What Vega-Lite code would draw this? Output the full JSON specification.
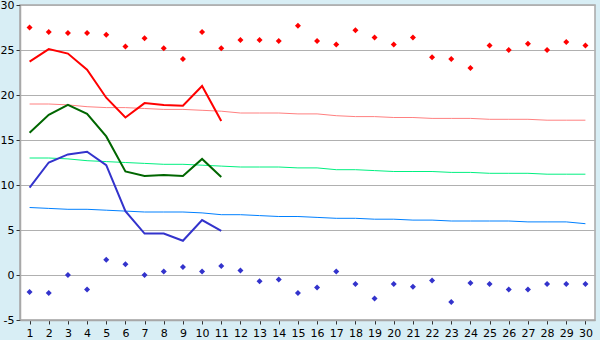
{
  "$schema": "https://vega.github.io/schema/vega-lite/v6.json",
  "autosize": "none",
  "width": 575,
  "height": 315,
  "padding": {"left": 20, "top": 5, "right": 5, "bottom": 20},
  "background": "#d8eef5",
  "config": {
    "view": {"fill": "white", "stroke": "#a8a8a8", "strokeWidth": 1.5},
    "axis": {"labelFont": "DejaVu Sans", "labelFontSize": 11, "labelColor": "#000000", "domainColor": "#a8a8a8", "domainWidth": 1.5, "tickColor": "#333333", "tickSize": 4, "title": null}
  },
  "data": {"values": [
    {"day": 1, "hi": 23.7, "mean": 15.8, "lo": 9.7, "nhi": 19.0, "nmean": 13.0, "nlo": 7.5, "rhi": 27.5, "rlo": -1.9},
    {"day": 2, "hi": 25.1, "mean": 17.8, "lo": 12.5, "nhi": 19.0, "nmean": 13.0, "nlo": 7.4, "rhi": 27.0, "rlo": -2.0},
    {"day": 3, "hi": 24.6, "mean": 18.9, "lo": 13.4, "nhi": 18.9, "nmean": 12.9, "nlo": 7.3, "rhi": 26.9, "rlo": 0.0},
    {"day": 4, "hi": 22.8, "mean": 17.9, "lo": 13.7, "nhi": 18.7, "nmean": 12.7, "nlo": 7.3, "rhi": 26.9, "rlo": -1.6},
    {"day": 5, "hi": 19.7, "mean": 15.4, "lo": 12.2, "nhi": 18.6, "nmean": 12.6, "nlo": 7.2, "rhi": 26.7, "rlo": 1.7},
    {"day": 6, "hi": 17.5, "mean": 11.5, "lo": 7.1, "nhi": 18.6, "nmean": 12.5, "nlo": 7.1, "rhi": 25.4, "rlo": 1.2},
    {"day": 7, "hi": 19.1, "mean": 11.0, "lo": 4.6, "nhi": 18.5, "nmean": 12.4, "nlo": 7.0, "rhi": 26.3, "rlo": 0.0},
    {"day": 8, "hi": 18.9, "mean": 11.1, "lo": 4.6, "nhi": 18.4, "nmean": 12.3, "nlo": 7.0, "rhi": 25.2, "rlo": 0.4},
    {"day": 9, "hi": 18.8, "mean": 11.0, "lo": 3.8, "nhi": 18.4, "nmean": 12.3, "nlo": 7.0, "rhi": 24.0, "rlo": 0.9},
    {"day": 10, "hi": 21.0, "mean": 12.9, "lo": 6.1, "nhi": 18.3, "nmean": 12.2, "nlo": 6.9, "rhi": 27.0, "rlo": 0.4},
    {"day": 11, "hi": 17.1, "mean": 10.9, "lo": 4.9, "nhi": 18.2, "nmean": 12.1, "nlo": 6.7, "rhi": 25.2, "rlo": 1.0},
    {"day": 12, "hi": null, "mean": null, "lo": null, "nhi": 18.0, "nmean": 12.0, "nlo": 6.7, "rhi": 26.1, "rlo": 0.5},
    {"day": 13, "hi": null, "mean": null, "lo": null, "nhi": 18.0, "nmean": 12.0, "nlo": 6.6, "rhi": 26.1, "rlo": -0.7},
    {"day": 14, "hi": null, "mean": null, "lo": null, "nhi": 18.0, "nmean": 12.0, "nlo": 6.5, "rhi": 26.0, "rlo": -0.5},
    {"day": 15, "hi": null, "mean": null, "lo": null, "nhi": 17.9, "nmean": 11.9, "nlo": 6.5, "rhi": 27.7, "rlo": -2.0},
    {"day": 16, "hi": null, "mean": null, "lo": null, "nhi": 17.9, "nmean": 11.9, "nlo": 6.4, "rhi": 26.0, "rlo": -1.4},
    {"day": 17, "hi": null, "mean": null, "lo": null, "nhi": 17.7, "nmean": 11.7, "nlo": 6.3, "rhi": 25.6, "rlo": 0.4},
    {"day": 18, "hi": null, "mean": null, "lo": null, "nhi": 17.6, "nmean": 11.7, "nlo": 6.3, "rhi": 27.2, "rlo": -1.0},
    {"day": 19, "hi": null, "mean": null, "lo": null, "nhi": 17.6, "nmean": 11.6, "nlo": 6.2, "rhi": 26.4, "rlo": -2.6},
    {"day": 20, "hi": null, "mean": null, "lo": null, "nhi": 17.5, "nmean": 11.5, "nlo": 6.2, "rhi": 25.6, "rlo": -1.0},
    {"day": 21, "hi": null, "mean": null, "lo": null, "nhi": 17.5, "nmean": 11.5, "nlo": 6.1, "rhi": 26.4, "rlo": -1.3},
    {"day": 22, "hi": null, "mean": null, "lo": null, "nhi": 17.4, "nmean": 11.5, "nlo": 6.1, "rhi": 24.2, "rlo": -0.6},
    {"day": 23, "hi": null, "mean": null, "lo": null, "nhi": 17.4, "nmean": 11.4, "nlo": 6.0, "rhi": 24.0, "rlo": -3.0},
    {"day": 24, "hi": null, "mean": null, "lo": null, "nhi": 17.4, "nmean": 11.4, "nlo": 6.0, "rhi": 23.0, "rlo": -0.9},
    {"day": 25, "hi": null, "mean": null, "lo": null, "nhi": 17.3, "nmean": 11.3, "nlo": 6.0, "rhi": 25.5, "rlo": -1.0},
    {"day": 26, "hi": null, "mean": null, "lo": null, "nhi": 17.3, "nmean": 11.3, "nlo": 6.0, "rhi": 25.0, "rlo": -1.6},
    {"day": 27, "hi": null, "mean": null, "lo": null, "nhi": 17.3, "nmean": 11.3, "nlo": 5.9, "rhi": 25.7, "rlo": -1.6},
    {"day": 28, "hi": null, "mean": null, "lo": null, "nhi": 17.2, "nmean": 11.2, "nlo": 5.9, "rhi": 25.0, "rlo": -1.0},
    {"day": 29, "hi": null, "mean": null, "lo": null, "nhi": 17.2, "nmean": 11.2, "nlo": 5.9, "rhi": 25.9, "rlo": -1.0},
    {"day": 30, "hi": null, "mean": null, "lo": null, "nhi": 17.2, "nmean": 11.2, "nlo": 5.7, "rhi": 25.5, "rlo": -1.0}
  ]},
  "encoding": {
    "x": {"field": "day", "type": "ordinal", "scale": {"type": "point", "padding": 0.5, "domain": [1,2,3,4,5,6,7,8,9,10,11,12,13,14,15,16,17,18,19,20,21,22,23,24,25,26,27,28,29,30]}, "axis": {"labelAngle": 0, "grid": false, "labelPadding": 3}}
  },
  "layer": [
    {"mark": {"type": "line", "color": "#ff8080", "strokeWidth": 1}, "encoding": {"y": {"field": "nhi", "type": "quantitative", "scale": {"domain": [-5, 30], "nice": false}, "axis": {"values": [-5,0,5,10,15,20,25,30], "labelExpr": "'' + datum.value", "gridColor": "#b0b0b0", "gridWidth": 1, "labelPadding": 2}}}},
    {"mark": {"type": "line", "color": "#00f080", "strokeWidth": 1}, "encoding": {"y": {"field": "nmean", "type": "quantitative"}}},
    {"mark": {"type": "line", "color": "#0080ff", "strokeWidth": 1}, "encoding": {"y": {"field": "nlo", "type": "quantitative"}}},
    {"mark": {"type": "line", "color": "#ff0000", "strokeWidth": 2}, "encoding": {"y": {"field": "hi", "type": "quantitative"}}},
    {"mark": {"type": "line", "color": "#006600", "strokeWidth": 2}, "encoding": {"y": {"field": "mean", "type": "quantitative"}}},
    {"mark": {"type": "line", "color": "#3333cc", "strokeWidth": 2}, "encoding": {"y": {"field": "lo", "type": "quantitative"}}},
    {"mark": {"type": "point", "shape": "diamond", "filled": true, "size": 36, "color": "#ff0000", "opacity": 1}, "encoding": {"y": {"field": "rhi", "type": "quantitative"}}},
    {"mark": {"type": "point", "shape": "diamond", "filled": true, "size": 36, "color": "#3333cc", "opacity": 1}, "encoding": {"y": {"field": "rlo", "type": "quantitative"}}}
  ]
}
